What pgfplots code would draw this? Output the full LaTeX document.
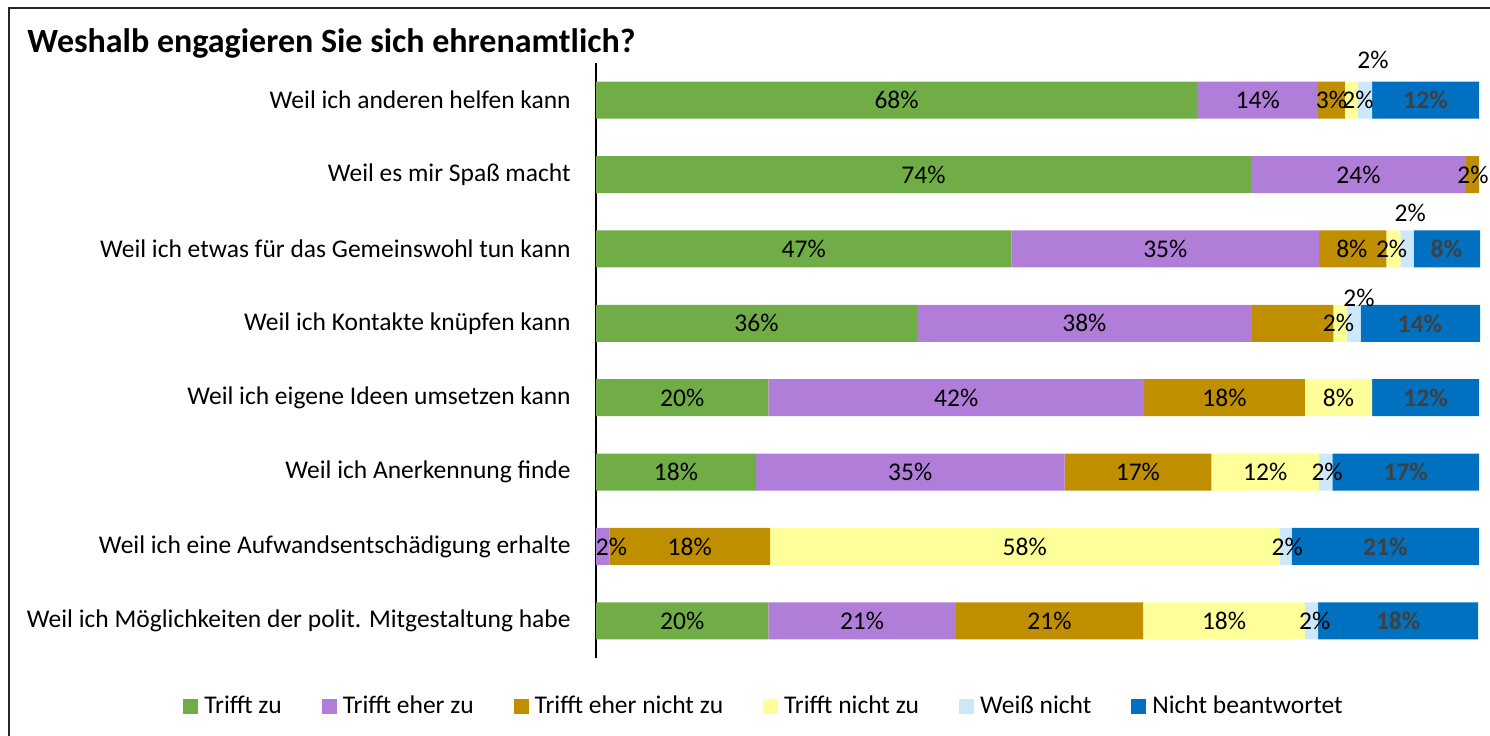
\documentclass[border=0pt]{standalone}
\usepackage{fontspec}
\setmainfont{Carlito}
\usepackage{pgfplots}
\pgfplotsset{compat=1.18}
\definecolor{cgreen}{HTML}{70AD47}
\definecolor{cpurple}{HTML}{B07ED8}
\definecolor{cgold}{HTML}{BF8F00}
\definecolor{cyellow}{HTML}{FFFF99}
\definecolor{clblue}{HTML}{CCE8FA}
\definecolor{cblue}{HTML}{0070C0}
\definecolor{lblgray}{HTML}{404040}
\newcommand{\lblfont}{\fontsize{12.75bp}{14bp}\selectfont}
\pgfplotsset{
  frame/.style={scale only axis, width=442bp, height=297.5bp,
    at={(298bp,39bp)}, anchor=south west,
    xmin=0, xmax=100, ymin=0.5, ymax=8.5, y dir=reverse},
}
\begin{document}
\begin{tikzpicture}
\path[use as bounding box] (0,0) rectangle (745bp,368bp);
\draw[line width=1bp, black!85] (4.25bp,0) -- (4.25bp,364bp) -- (746bp,364bp);
\node[anchor=base west, inner sep=0pt, font=\bfseries\fontsize{17bp}{19bp}\selectfont]
  at (13.5bp,341.5bp) {Weshalb engagieren Sie sich ehrenamtlich?};

\begin{axis}[frame,
  xbar stacked, bar width=18.5bp,
  hide x axis, axis y line*=left,
  y axis line style={black, line width=0.75bp},
  ytick={1,2,3,4,5,6,7,8}, ytick style={draw=none},
  yticklabels={{Weil ich anderen helfen kann},{Weil es mir Spaß macht},
    {Weil ich etwas für das Gemeinswohl tun kann},{Weil ich Kontakte knüpfen kann},
    {Weil ich eigene Ideen umsetzen kann},{Weil ich Anerkennung finde},
    {Weil ich eine Aufwandsentschädigung erhalte},{Weil ich Möglichkeiten der polit. Mitgestaltung habe}},
  yticklabel style={font=\lblfont, inner sep=0pt, xshift=-12.5bp},
  legend columns=6,
  legend style={at={(0.19,-0.0807)}, anchor=center, draw=none, fill=none,
    font=\lblfont, nodes={inner sep=1bp},
    /tikz/every odd column/.append style={column sep=2bp},
    /tikz/every even column/.append style={column sep=19bp}},
  legend image code/.code={\fill[#1] (0bp,-3.75bp) rectangle (7.5bp,3.75bp);},
]
\addplot[fill=cgreen, draw=none] coordinates {(68,1) (74.1,2) (47,3) (36.3,4) (19.5,5) (18.1,6) (0,7) (19.5,8)};
\addlegendentry{Trifft zu}
\addplot[fill=cpurple, draw=none] coordinates {(13.7,1) (24.3,2) (34.8,3) (37.9,4) (42.5,5) (34.9,6) (1.5,7) (21.2,8)};
\addlegendentry{Trifft eher zu}
\addplot[fill=cgold, draw=none] coordinates {(3.0,1) (1.5,2) (7.6,3) (9.2,4) (18.2,5) (16.6,6) (18.2,7) (21.2,8)};
\addlegendentry{Trifft eher nicht zu}
\addplot[fill=cyellow, draw=none] coordinates {(1.5,1) (0,2) (1.6,3) (1.5,4) (7.6,5) (12.2,6) (57.6,7) (18.3,8)};
\addlegendentry{Trifft nicht zu}
\addplot[fill=clblue, draw=none] coordinates {(1.6,1) (0,2) (1.5,3) (1.6,4) (0,5) (1.5,6) (1.4,7) (1.5,8)};
\addlegendentry{Weiß nicht}
\addplot[fill=cblue, draw=none] coordinates {(12.1,1) (0,2) (7.6,3) (13.6,4) (12.1,5) (16.6,6) (21.2,7) (18.1,8)};
\addlegendentry{Nicht beantwortet}
\end{axis}

\begin{axis}[frame, hide axis, clip=false,
  nodes near coords, point meta=explicit symbolic, nodes near coords align=center,
  every node near coord/.append style={font=\lblfont, inner sep=0pt, anchor=center},
]
\addplot[only marks, mark=none] coordinates {
  (34,1)[68\%] (74.85,1)[14\%] (83.2,1)[3\%] (86.2,1)[2\%] (87.9,0.46)[2\%]
  (37.05,2)[74\%] (86.25,2)[24\%] (99.2,2)[2\%]
  (23.5,3)[47\%] (64.4,3)[35\%] (85.5,3)[8\%] (90.0,3)[2\%] (92.1,2.516)[2\%]
  (18.15,4)[36\%] (55.25,4)[38\%] (84.0,4)[2\%] (86.3,3.66)[2\%]
  (9.75,5)[20\%] (40.75,5)[42\%] (71.1,5)[18\%] (84.0,5)[8\%]
  (9.05,6)[18\%] (35.55,6)[35\%] (61.3,6)[17\%] (75.7,6)[12\%] (82.7,6)[2\%]
  (1.75,7)[2\%] (10.6,7)[18\%] (48.5,7)[58\%] (78.2,7)[2\%]
  (9.75,8)[20\%] (30.1,8)[21\%] (51.3,8)[21\%] (71.05,8)[18\%] (81.3,8)[2\%]
};
\addplot[only marks, mark=none,
  every node near coord/.append style={font=\bfseries\lblfont, text=lblgray}] coordinates {
  (93.85,1)[12\%] (96.2,3)[8\%] (93.2,4)[14\%] (93.85,5)[12\%]
  (91.6,6)[17\%] (89.3,7)[21\%] (90.75,8)[18\%]
};
\end{axis}
\end{tikzpicture}
\end{document}
